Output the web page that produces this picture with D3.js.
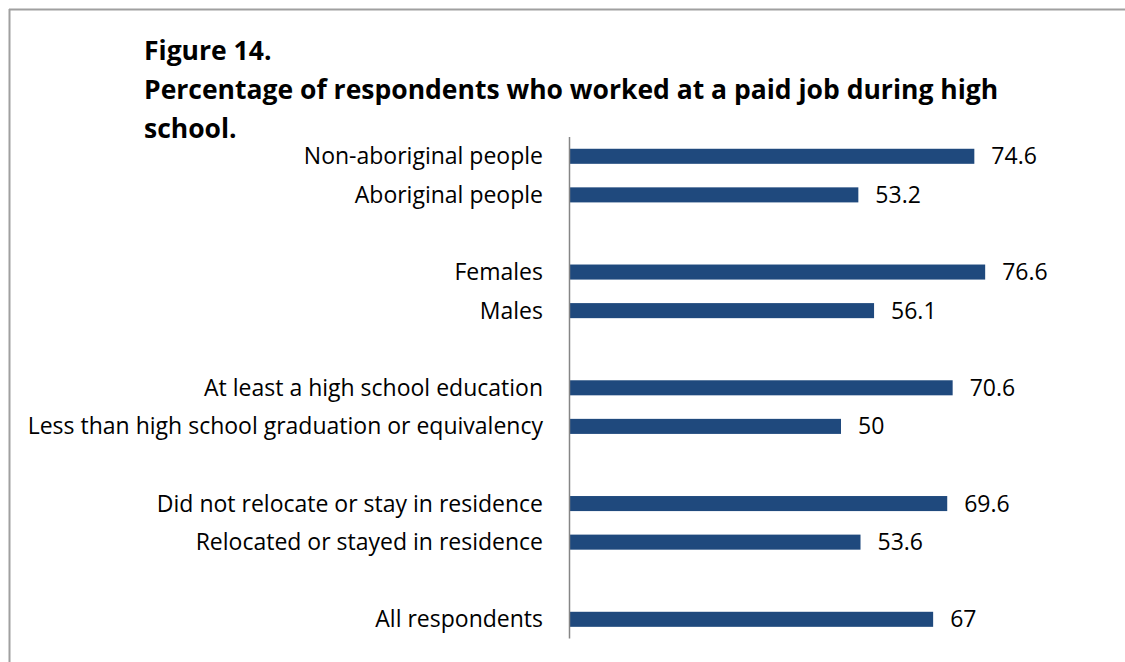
<!DOCTYPE html>
<html>
<head>
<meta charset="utf-8">
<script src="https://cdn.jsdelivr.net/npm/d3@7"></script>
<style>
  html, body { margin: 0; padding: 0; background: #fff; }
  svg { display: block; }
  text { font-family: "Open Sans", Lato, sans-serif; fill: #000; }
</style>
</head>
<body>
<div id="chart"></div>
<script>
// Category rows, top to bottom; empty strings are spacer rows between groups
const categories = [
  "Non-aboriginal people",
  "Aboriginal people",
  "",
  "Females",
  "Males",
  "",
  "At least a high school education",
  "Less than high school graduation or equivalency",
  "",
  "Did not relocate or stay in residence",
  "Relocated or stayed in residence",
  "",
  "All respondents"
];
const values = [74.6, 53.2, null, 76.6, 56.1, null, 70.6, 50, null, 69.6, 53.6, null, 67];
const titleLines = [
  "Figure 14.",
  "Percentage of respondents who worked at a paid job during high",
  "school."
];

const W = 1125, H = 662;
const svg = d3.select("#chart").append("svg").attr("width", W).attr("height", H);

// frame: top and left rules
svg.append("line").attr("x1", 9).attr("x2", W).attr("y1", 9.5).attr("y2", 9.5)
  .attr("stroke", "#a0a0a0").attr("stroke-width", 2);
svg.append("line").attr("x1", 9.5).attr("x2", 9.5).attr("y1", 9).attr("y2", H)
  .attr("stroke", "#a0a0a0").attr("stroke-width", 2);

// title
svg.append("g").selectAll("text").data(titleLines).join("text")
  .attr("x", 144)
  .attr("y", (d, i) => 60 + i * 39)
  .attr("font-size", 26.5)
  .attr("font-weight", "bold")
  .text(d => d);

const rows = categories.map((c, i) => ({ key: "r" + i, label: c, value: values[i] }));

const x = d3.scaleLinear().domain([0, 100]).range([570, 570 + 542]);
const y = d3.scaleBand().domain(rows.map(d => d.key)).range([137, 638.6]).paddingInner(0.61).paddingOuter(0.305);

// bars
svg.append("g").selectAll("rect").data(rows.filter(d => d.value != null)).join("rect")
  .attr("x", x(0))
  .attr("y", d => y(d.key))
  .attr("width", d => x(d.value) - x(0))
  .attr("height", y.bandwidth())
  .attr("fill", "#1f497d");

// category axis line
svg.append("line").attr("x1", 569.5).attr("x2", 569.5).attr("y1", 137).attr("y2", 638.6)
  .attr("stroke", "#868686").attr("stroke-width", 1.5);

// category labels
svg.append("g").selectAll("text").data(rows.filter(d => d.label)).join("text")
  .attr("x", 543)
  .attr("y", d => y(d.key) + y.bandwidth() / 2 + 8)
  .attr("text-anchor", "end")
  .attr("font-size", 23)
  .text(d => d.label);

// value labels
svg.append("g").selectAll("text").data(rows.filter(d => d.value != null)).join("text")
  .attr("x", d => x(d.value) + 17)
  .attr("y", d => y(d.key) + y.bandwidth() / 2 + 8)
  .attr("font-size", 23)
  .text(d => d.value);
</script>
</body>
</html>
